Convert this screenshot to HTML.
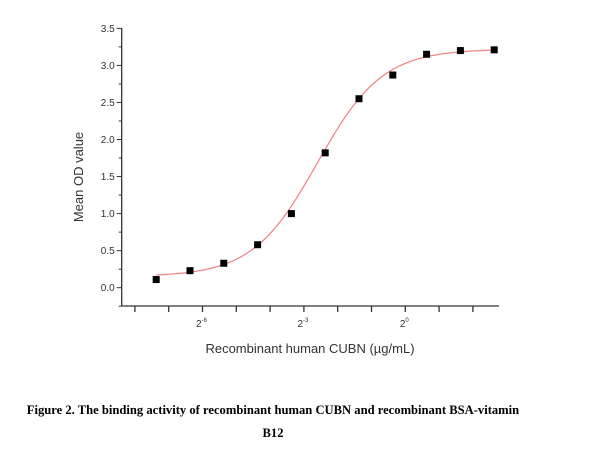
<!DOCTYPE html>
<html><head><meta charset="utf-8"><style>
body{margin:0;background:#fff;width:604px;height:455px;overflow:hidden}
svg{display:block}
</style></head><body>
<svg width="604" height="455" id="chart" font-family="Liberation Sans, sans-serif">
<g id="axes"></g>
<g id="curve"></g>
<g id="points"></g>
<text x="83" y="177" transform="rotate(-90 83 177)" text-anchor="middle" font-size="13" fill="#333">Mean OD value</text>
<text x="310" y="353" text-anchor="middle" font-size="13" fill="#333">Recombinant human CUBN (µg/mL)</text>
<text x="273" y="414" text-anchor="middle" font-size="12.6" font-weight="bold" font-family="Liberation Serif, serif" fill="#000">Figure 2. The binding activity of recombinant human CUBN and recombinant BSA-vitamin</text>
<text x="273" y="437" text-anchor="middle" font-size="12.6" font-weight="bold" font-family="Liberation Serif, serif" fill="#000">B12</text>
</svg>
<script>
const xLog2 = [-7.37,-6.37,-5.37,-4.37,-3.37,-2.37,-1.37,-0.37,0.63,1.63,2.63];
const odValues = [0.11,0.23,0.33,0.58,1.0,1.82,2.55,2.87,3.15,3.20,3.21];
const yTicks = [0,0.5,1.0,1.5,2.0,2.5,3.0,3.5];
const yTickLabels = ["0.0","0.5","1.0","1.5","2.0","2.5","3.0","3.5"];
const xTickLog2 = [-8,-7,-6,-5,-4,-3,-2,-1,0,1,2];
const xLabelLog2 = [-6,-3,0];
const fitParams = [0.15,3.22,-2.6,1.5]; // bottom, top, midpoint(log2), hill

const NS="http://www.w3.org/2000/svg";
function X(l){return 405.3+33.8*l;}
function Y(v){return 287.7-74.1*v;}
function mk(tag,attrs,parent){const e=document.createElementNS(NS,tag);for(const k in attrs)e.setAttribute(k,attrs[k]);parent.appendChild(e);return e;}
const axes=document.getElementById('axes');
const ax=121.7, ay=306;
let e=mk('line',{x1:ax,y1:28,x2:ax,y2:ay,stroke:'#333','stroke-width':1.3},axes);


e=mk('line',{x1:ax,y1:ay,x2:499,y2:ay,stroke:'#333','stroke-width':1.3},axes);


yTicks.forEach((v,i)=>{
  const t=mk('line',{x1:ax-5,y1:Y(v),x2:ax,y2:Y(v),stroke:'#333','stroke-width':1},axes);
  
  
  if(v+0.25<=3.6){const mm=mk('line',{x1:ax-3,y1:Y(v+0.25),x2:ax,y2:Y(v+0.25),stroke:'#333','stroke-width':1},axes);
  
  }
  const tx=mk('text',{x:ax-7,y:Y(v)+3.5,'text-anchor':'end','font-size':10,fill:'#333'},axes);
  tx.textContent=yTickLabels[i];
  
  
});
const mn=mk('line',{x1:ax-3,y1:Y(-0.25),x2:ax,y2:Y(-0.25),stroke:'#333','stroke-width':1},axes);


xTickLog2.forEach(l=>{
  const t=mk('line',{x1:X(l),y1:ay,x2:X(l),y2:ay+6,stroke:'#333','stroke-width':1.3},axes);
  
  
});
xLabelLog2.forEach(l=>{
  const t=mk('text',{x:X(l)-1,y:ay+21,'text-anchor':'middle','font-size':10,fill:'#333'},axes);
  
  
  t.textContent='2';
  const s=mk('tspan',{dy:-5,'font-size':6},t);
  s.textContent=String(l);
});
const fitBot=fitParams[0], fitTop=fitParams[1], fitMid=fitParams[2], fitHill=fitParams[3];
let d='';
const xa=xLog2[0],xb=xLog2[xLog2.length-1];
for(let i=0;i<=200;i++){const l=xa+(xb-xa)*i/200;const v=fitBot+(fitTop-fitBot)/(1+Math.pow(2,-(l-fitMid)*fitHill));d+=(i?'L':'M')+X(l).toFixed(2)+','+Y(v).toFixed(2);}
const c=mk('path',{d:d,fill:'none',stroke:'#f08080','stroke-width':1.2},document.getElementById('curve'));


const pts=document.getElementById('points');
xLog2.forEach((l,i)=>{
  const r=mk('rect',{x:X(l)-3.5,y:Y(odValues[i])-3.5,width:7,height:7,fill:'#000'},pts);
  
  
});
</script>
</body></html>
